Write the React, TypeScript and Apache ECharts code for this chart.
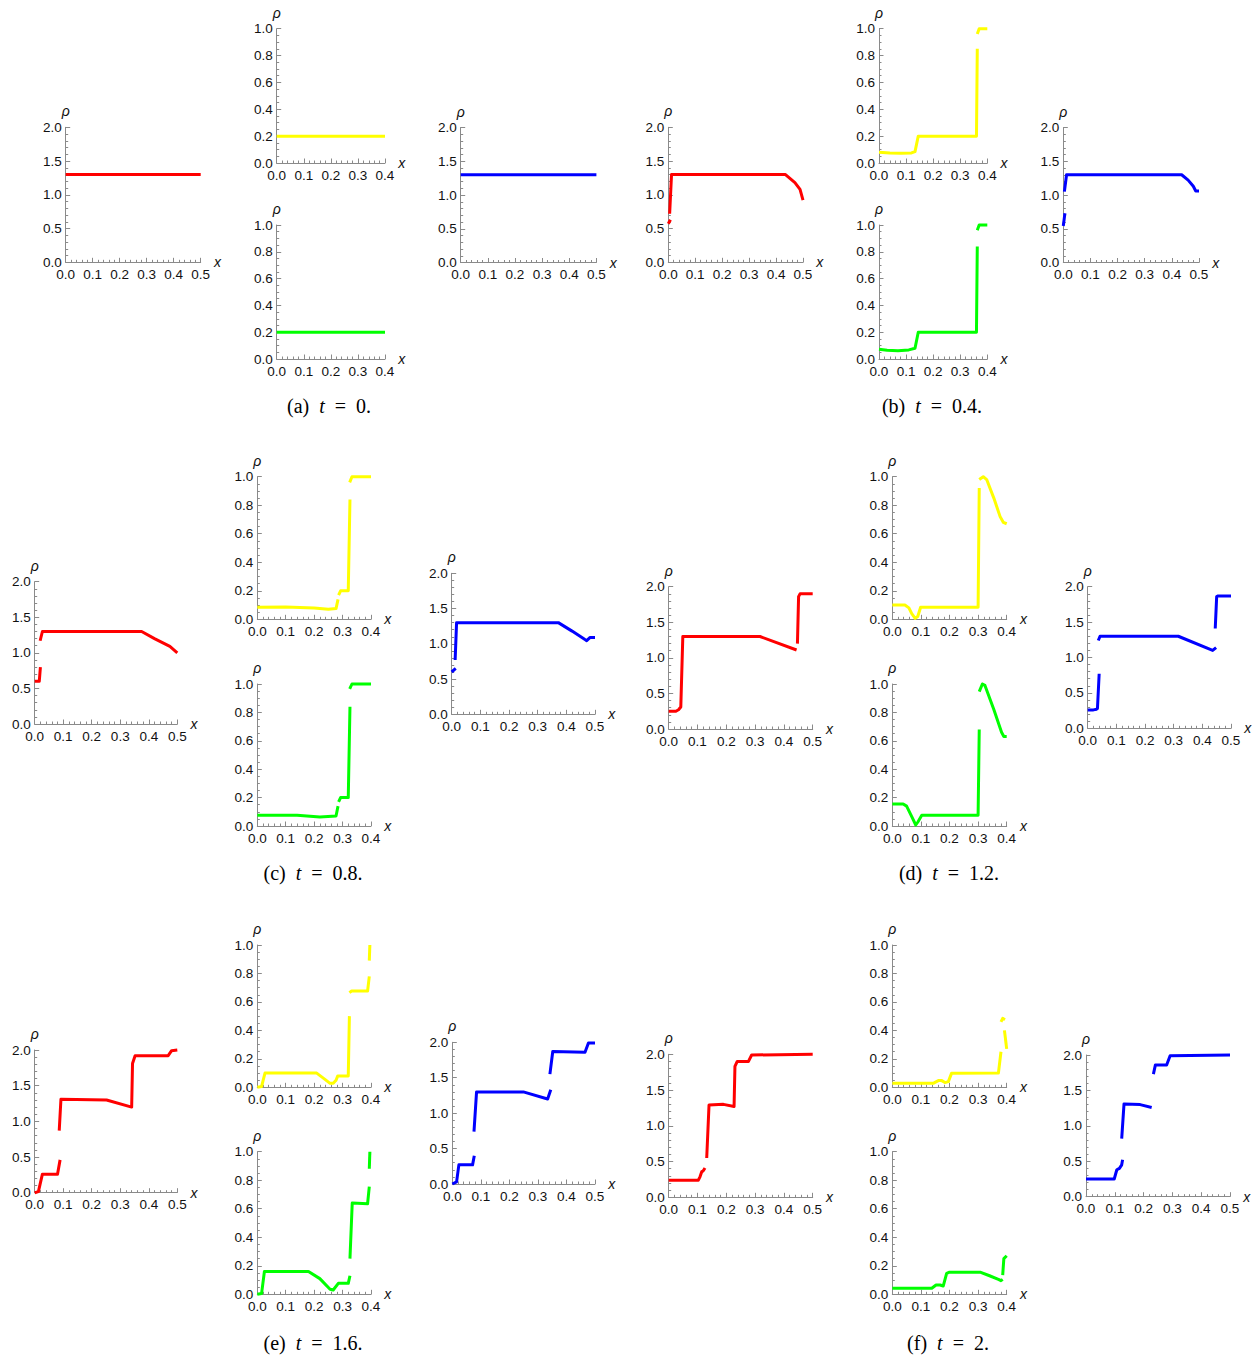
import React, { useEffect, useRef } from "react";
import * as echarts from "echarts";

type Seg = number[][];

// ---- data: each curve is a list of continuous segments of [x, rho] ----
// (a) t = 0
const redA: Seg[] = [[[0, 1.3], [0.5, 1.3]]];
const yellowA: Seg[] = [[[0, 0.2], [0.4, 0.2]]];
const greenA: Seg[] = [[[0, 0.2], [0.4, 0.2]]];
const blueA: Seg[] = [[[0, 1.3], [0.5, 1.3]]];

// (b) t = 0.4
const redB: Seg[] = [
  [[0, 0.57], [0.008, 0.63]],
  [[0.005, 0.72], [0.012, 1.3], [0.435, 1.3], [0.47, 1.18], [0.489, 1.08], [0.5, 0.92]],
];
const yellowB: Seg[] = [
  [[0, 0.08], [0.04, 0.075], [0.08, 0.073], [0.12, 0.075], [0.133, 0.085], [0.145, 0.2], [0.36, 0.2], [0.363, 0.85]],
  [[0.363, 0.96], [0.37, 1.0], [0.4, 1.0]],
];
const greenB: Seg[] = [
  [[0, 0.072], [0.03, 0.065], [0.07, 0.062], [0.11, 0.068], [0.133, 0.08], [0.145, 0.2], [0.36, 0.2], [0.363, 0.84]],
  [[0.363, 0.96], [0.37, 1.0], [0.4, 1.0]],
];
const blueB: Seg[] = [
  [[0, 0.54], [0.006, 0.73]],
  [[0.004, 1.05], [0.012, 1.3], [0.436, 1.3], [0.46, 1.22], [0.479, 1.13], [0.488, 1.06], [0.5, 1.06]],
];

// (c) t = 0.8
const redC: Seg[] = [
  [[0, 0.6], [0.016, 0.6], [0.02, 0.8]],
  [[0.019, 1.17], [0.027, 1.3], [0.375, 1.3], [0.42, 1.2], [0.474, 1.09], [0.5, 1.0]],
];
const yellowC: Seg[] = [
  [[0, 0.085], [0.1, 0.086], [0.2, 0.08], [0.25, 0.07], [0.277, 0.075], [0.284, 0.14]],
  [[0.286, 0.17], [0.293, 0.2], [0.32, 0.2], [0.326, 0.84]],
  [[0.325, 0.96], [0.333, 1.0], [0.4, 1.0]],
];
const greenC: Seg[] = [
  [[0, 0.075], [0.14, 0.075], [0.22, 0.063], [0.277, 0.07], [0.284, 0.14]],
  [[0.286, 0.17], [0.293, 0.2], [0.32, 0.2], [0.326, 0.84]],
  [[0.325, 0.965], [0.333, 1.0], [0.4, 1.0]],
];
const blueC: Seg[] = [
  [[0, 0.6], [0.014, 0.65]],
  [[0.012, 0.77], [0.017, 1.3], [0.372, 1.3], [0.42, 1.18], [0.465, 1.06], [0.471, 1.045], [0.483, 1.09], [0.5, 1.09]],
];

// (d) t = 1.2
const redD: Seg[] = [
  [[0, 0.25], [0.025, 0.25], [0.034, 0.27], [0.042, 0.31], [0.049, 1.3], [0.317, 1.3], [0.444, 1.11]],
  [[0.447, 1.2], [0.451, 1.86], [0.456, 1.9], [0.5, 1.9]],
];
const yellowD: Seg[] = [
  [[0, 0.1], [0.044, 0.1], [0.058, 0.08], [0.068, 0.04], [0.08, 0.007], [0.089, 0.02], [0.099, 0.084], [0.3, 0.085], [0.304, 0.92]],
  [[0.304, 0.98], [0.318, 1.0], [0.33, 0.98], [0.355, 0.85], [0.377, 0.72], [0.388, 0.68], [0.4, 0.67]],
];
const greenD: Seg[] = [
  [[0, 0.155], [0.038, 0.155], [0.05, 0.14], [0.068, 0.066], [0.082, 0.007], [0.09, 0.03], [0.103, 0.075], [0.3, 0.075], [0.304, 0.68]],
  [[0.304, 0.946], [0.315, 1.0], [0.324, 0.99], [0.355, 0.82], [0.382, 0.66], [0.39, 0.63], [0.4, 0.63]],
];
const blueD: Seg[] = [
  [[0, 0.26], [0.02, 0.26], [0.031, 0.27], [0.034, 0.28], [0.04, 0.77]],
  [[0.037, 1.24], [0.043, 1.3], [0.316, 1.3], [0.436, 1.1], [0.448, 1.14]],
  [[0.445, 1.41], [0.45, 1.86], [0.455, 1.87], [0.5, 1.87]],
];

// (e) t = 1.6
const redE: Seg[] = [
  [[0, 0], [0.013, 0.015], [0.027, 0.26], [0.08, 0.26], [0.089, 0.46]],
  [[0.086, 0.87], [0.092, 1.31], [0.252, 1.3], [0.34, 1.2], [0.343, 1.81], [0.352, 1.92], [0.468, 1.92], [0.48, 1.99], [0.5, 2.0]],
];
const yellowE: Seg[] = [
  [[0, 0], [0.015, 0.005], [0.027, 0.1], [0.209, 0.1], [0.238, 0.056], [0.256, 0.028], [0.267, 0.028], [0.277, 0.05], [0.283, 0.08], [0.32, 0.08], [0.324, 0.5]],
  [[0.324, 0.665], [0.332, 0.677], [0.388, 0.677], [0.394, 0.78]],
  [[0.394, 0.89], [0.396, 1.0]],
];
const greenE: Seg[] = [
  [[0, 0], [0.015, 0.005], [0.025, 0.16], [0.18, 0.16], [0.22, 0.11], [0.256, 0.035], [0.267, 0.03], [0.285, 0.077], [0.32, 0.077], [0.326, 0.13]],
  [[0.326, 0.25], [0.334, 0.64], [0.388, 0.635], [0.394, 0.755]],
  [[0.394, 0.88], [0.396, 1.0]],
];
const blueE: Seg[] = [
  [[0, 0], [0.015, 0.03], [0.023, 0.27], [0.071, 0.27], [0.077, 0.4]],
  [[0.076, 0.74], [0.085, 1.3], [0.249, 1.3], [0.334, 1.2], [0.345, 1.33]],
  [[0.342, 1.55], [0.352, 1.87], [0.465, 1.86], [0.477, 1.99], [0.5, 1.99]],
];

// (f) t = 2
const redF: Seg[] = [
  [[0, 0.24], [0.103, 0.24], [0.109, 0.29], [0.115, 0.36], [0.12, 0.37], [0.126, 0.41]],
  [[0.132, 0.55], [0.14, 1.29], [0.19, 1.3], [0.227, 1.27], [0.23, 1.83], [0.238, 1.9], [0.277, 1.9], [0.288, 1.99], [0.5, 2.0]],
];
const yellowF: Seg[] = [
  [[0, 0.028], [0.143, 0.028], [0.161, 0.047], [0.173, 0.047], [0.184, 0.033], [0.196, 0.04], [0.207, 0.098], [0.371, 0.1], [0.38, 0.25]],
  [[0.38, 0.46], [0.386, 0.485], [0.394, 0.475]],
  [[0.392, 0.4], [0.4, 0.27]],
];
const greenF: Seg[] = [
  [[0, 0.042], [0.138, 0.042], [0.153, 0.065], [0.167, 0.065], [0.178, 0.058], [0.19, 0.147], [0.198, 0.154], [0.307, 0.155], [0.34, 0.13], [0.371, 0.105], [0.38, 0.096], [0.386, 0.105]],
  [[0.386, 0.135], [0.39, 0.25], [0.4, 0.27]],
];
const blueF: Seg[] = [
  [[0, 0.25], [0.098, 0.25], [0.107, 0.38], [0.116, 0.4], [0.124, 0.45], [0.127, 0.52]],
  [[0.124, 0.82], [0.132, 1.31], [0.188, 1.3], [0.228, 1.26]],
  [[0.234, 1.73], [0.241, 1.86], [0.28, 1.86], [0.292, 1.99], [0.5, 2.0]],
];

const captionLabels = ["a", "b", "c", "d", "e", "f"];
const captionTimes = ["0", "0.4", "0.8", "1.2", "1.6", "2"];

// ---- layout & styles ----
const RED = "#ff0000";
const YELLOW = "#ffff00";
const GREEN = "#00ff00";
const BLUE = "#0000ff";

type Panel = { curve: Seg[]; color: string; big: boolean; left: number; top: number; width: number; height: number };

const panels: Panel[] = [
  { curve: redA, color: RED, big: true, left: 65.7, top: 127.3, width: 135, height: 135 },
  { curve: yellowA, color: YELLOW, big: false, left: 276.7, top: 28.7, width: 108.3, height: 134.3 },
  { curve: greenA, color: GREEN, big: false, left: 276.7, top: 225, width: 108.3, height: 134 },
  { curve: blueA, color: BLUE, big: true, left: 460.7, top: 127.5, width: 135.7, height: 135 },

  { curve: redB, color: RED, big: true, left: 668.3, top: 127.3, width: 134.7, height: 135 },
  { curve: yellowB, color: YELLOW, big: false, left: 879, top: 28.7, width: 108.3, height: 134.3 },
  { curve: greenB, color: GREEN, big: false, left: 879, top: 225, width: 108.3, height: 134 },
  { curve: blueB, color: BLUE, big: true, left: 1063.3, top: 127.5, width: 135.7, height: 135 },

  { curve: redC, color: RED, big: true, left: 34.7, top: 581.7, width: 142.6, height: 142.3 },
  { curve: yellowC, color: YELLOW, big: false, left: 257.3, top: 476.7, width: 113.7, height: 142.6 },
  { curve: greenC, color: GREEN, big: false, left: 257.3, top: 684, width: 113.7, height: 142 },
  { curve: blueC, color: BLUE, big: true, left: 451.7, top: 573.3, width: 143.3, height: 141 },

  { curve: redD, color: RED, big: true, left: 668.7, top: 586.7, width: 144, height: 142.3 },
  { curve: yellowD, color: YELLOW, big: false, left: 892.3, top: 476.7, width: 114.4, height: 142.6 },
  { curve: greenD, color: GREEN, big: false, left: 892.3, top: 684, width: 114.4, height: 142 },
  { curve: blueD, color: BLUE, big: true, left: 1087.7, top: 586.7, width: 143.3, height: 141.6 },

  { curve: redE, color: RED, big: true, left: 34.7, top: 1050, width: 142.6, height: 142.7 },
  { curve: yellowE, color: YELLOW, big: false, left: 257.3, top: 945, width: 113.7, height: 142.3 },
  { curve: greenE, color: GREEN, big: false, left: 257.3, top: 1151.7, width: 113.7, height: 142.6 },
  { curve: blueE, color: BLUE, big: true, left: 452.3, top: 1042.3, width: 142.7, height: 141.7 },

  { curve: redF, color: RED, big: true, left: 668.7, top: 1054.3, width: 144, height: 143 },
  { curve: yellowF, color: YELLOW, big: false, left: 892.3, top: 945, width: 114.4, height: 142.3 },
  { curve: greenF, color: GREEN, big: false, left: 892.3, top: 1151.7, width: 114.4, height: 142.6 },
  { curve: blueF, color: BLUE, big: true, left: 1086, top: 1055, width: 144, height: 141.7 },
];

const captionPos = [
  [329, 406],
  [932, 406],
  [313, 873],
  [949, 873],
  [313, 1343],
  [948, 1343],
];

const AXIS_COLOR = "#8a8a8a";
const LABEL_COLOR = "#111111";
const SANS = "Liberation Sans, Arial, sans-serif";
const SERIF = "Liberation Serif, Times New Roman, serif";

function buildOption() {
  const grid: any[] = [];
  const xAxis: any[] = [];
  const yAxis: any[] = [];
  const series: any[] = [];

  panels.forEach((p, i) => {
    grid.push({ left: p.left, top: p.top, width: p.width, height: p.height, containLabel: false });
    const common = {
      type: "value",
      gridIndex: i,
      min: 0,
      splitLine: { show: false },
      axisLine: { show: true, onZero: false, lineStyle: { color: AXIS_COLOR, width: 1 } },
      axisTick: { show: true, inside: true, length: 4.5, lineStyle: { color: AXIS_COLOR, width: 1 } },
      axisLabel: {
        color: LABEL_COLOR,
        fontSize: 13.5,
        fontFamily: SANS,
        margin: 4,
        formatter: (v: number) => v.toFixed(1),
      },
      nameTextStyle: { color: LABEL_COLOR, fontStyle: "italic", fontSize: 14, fontFamily: SANS },
    };
    xAxis.push({
      ...common,
      max: p.big ? 0.5 : 0.4,
      interval: 0.1,
      minorTick: { show: true, splitNumber: 5, length: 2.5, lineStyle: { color: AXIS_COLOR, width: 1 } },
      axisLabel: { ...common.axisLabel, margin: 5 },
      name: "x",
      nameLocation: "end",
      nameGap: 11,
    });
    yAxis.push({
      ...common,
      max: p.big ? 2 : 1,
      interval: p.big ? 0.5 : 0.2,
      minorTick: { show: true, splitNumber: p.big ? 5 : 4, length: 2.5, lineStyle: { color: AXIS_COLOR, width: 1 } },
      name: "ρ",
      nameLocation: "end",
      nameGap: 9,
    });
    p.curve.forEach((seg) => {
      series.push({
        type: "line",
        xAxisIndex: i,
        yAxisIndex: i,
        data: seg,
        showSymbol: false,
        symbol: "none",
        silent: true,
        clip: false,
        lineStyle: { color: p.color, width: 3, cap: "butt", join: "round" },
        z: 3,
      });
    });
  });

  const graphic = captionPos.map((pos, k) => ({
    type: "text",
    x: pos[0],
    y: pos[1],
    silent: true,
    style: {
      text: `{n|(${captionLabels[k]})  }{i|t}{n|  =  ${captionTimes[k]}.}`,
      align: "center",
      verticalAlign: "middle",
      fill: "#000",
      font: `20px ${SERIF}`,
      rich: {
        n: { fontSize: 20, fontFamily: SERIF, fill: "#000" },
        i: { fontSize: 20, fontFamily: SERIF, fontStyle: "italic", fill: "#000" },
      },
    },
  }));

  return {
    animation: false,
    backgroundColor: "#ffffff",
    grid,
    xAxis,
    yAxis,
    series,
    graphic,
  };
}

export default function App() {
  const ref = useRef<HTMLDivElement>(null);
  useEffect(() => {
    if (!ref.current) return;
    const chart = echarts.init(ref.current, undefined, { renderer: "svg" });
    chart.setOption(buildOption());
    return () => chart.dispose();
  }, []);
  return (
    <div
      ref={ref}
      style={{ position: "absolute", left: 0, top: 0, width: 1258, height: 1358, background: "#fff" }}
    />
  );
}
